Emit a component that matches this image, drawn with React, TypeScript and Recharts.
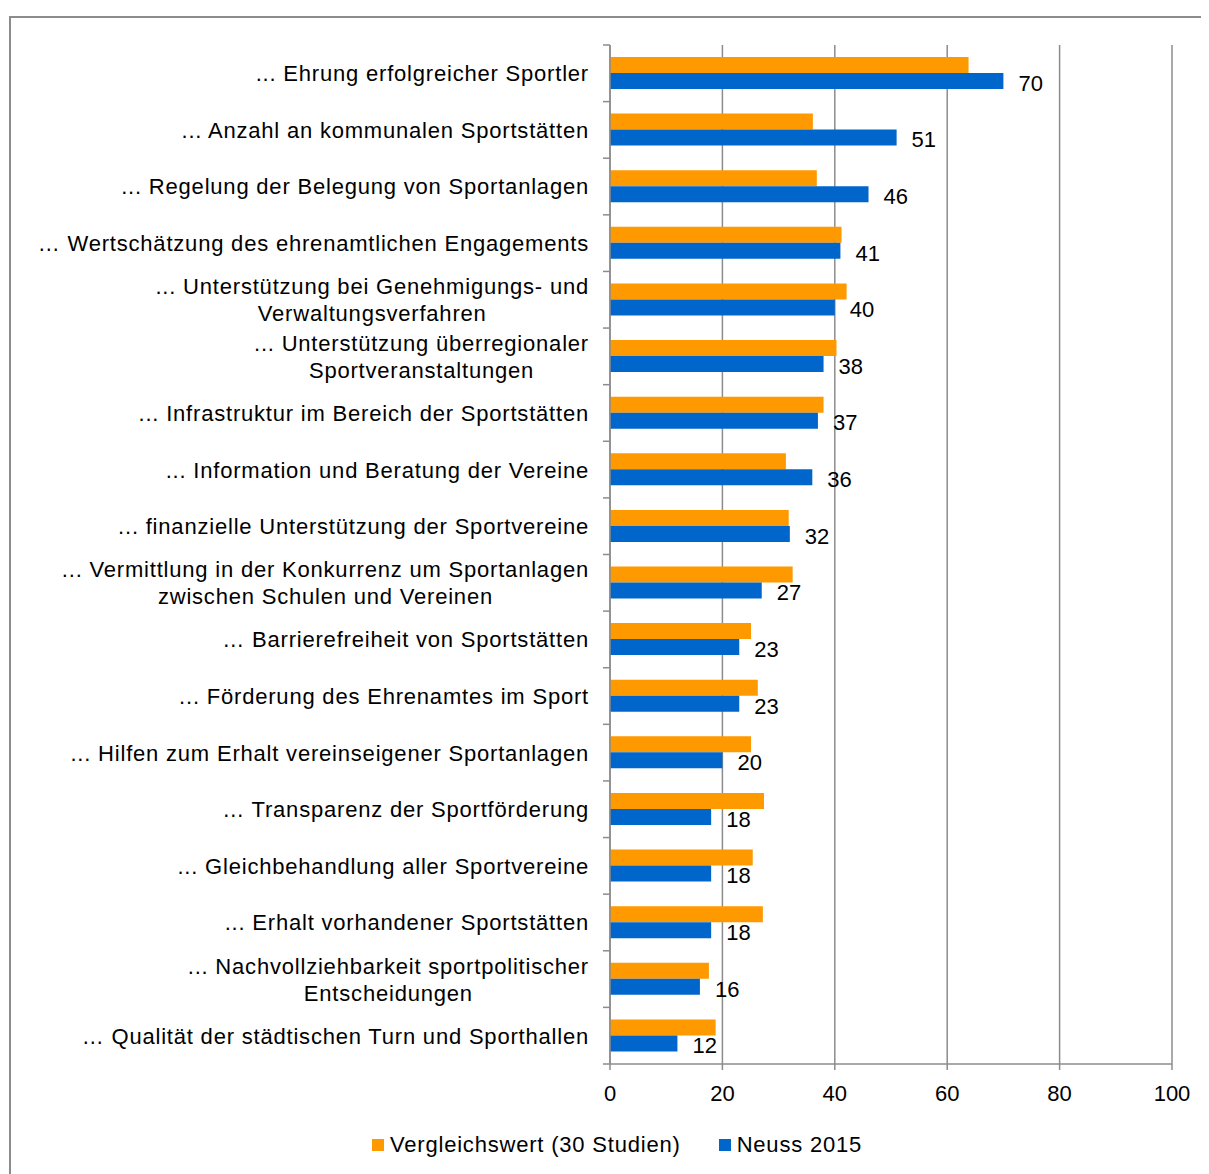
import {
  BarChart, Bar, XAxis, YAxis, CartesianGrid, Legend, LabelList
} from 'recharts'

const categories = [
  '... Ehrung erfolgreicher Sportler',
  '... Anzahl an kommunalen Sportstätten',
  '... Regelung der Belegung von Sportanlagen',
  '… Wertschätzung des ehrenamtlichen Engagements',
  '... Unterstützung bei Genehmigungs- und\nVerwaltungsverfahren',
  '... Unterstützung überregionaler\nSportveranstaltungen',
  '... Infrastruktur im Bereich der Sportstätten',
  '... Information und Beratung der Vereine',
  '... finanzielle Unterstützung der Sportvereine',
  '... Vermittlung in der Konkurrenz um Sportanlagen\nzwischen Schulen und Vereinen',
  '… Barrierefreiheit von Sportstätten',
  '... Förderung des Ehrenamtes im Sport',
  '... Hilfen zum Erhalt vereinseigener Sportanlagen',
  '… Transparenz der Sportförderung',
  '... Gleichbehandlung aller Sportvereine',
  '... Erhalt vorhandener Sportstätten',
  '... Nachvollziehbarkeit sportpolitischer\nEntscheidungen',
  '… Qualität der städtischen Turn und Sporthallen',
]

const vergleich = [63.8, 36.1, 36.8, 41.2, 42.1, 40.3, 38.0, 31.3, 31.8, 32.5, 25.1, 26.3, 25.1, 27.4, 25.4, 27.2, 17.6, 18.8]
const neuss = [70, 51, 46, 41, 40, 38, 37, 36, 32, 27, 23, 23, 20, 18, 18, 18, 16, 12]
const xTicks = [0, 20, 40, 60, 80, 100]

const seriesNames = { vergleich: 'Vergleichswert (30 Studien)', neuss: 'Neuss 2015' }

const FONT = '"Liberation Sans", Arial, sans-serif'
const FS = 22
const LS = 0.8
const GRAY = '#8c8c8c'
const PLOT_H = 1019

const data = categories.map((c, i) => ({ name: c, vergleich: vergleich[i], neuss: neuss[i] }))

let ctx: CanvasRenderingContext2D | null = null
function textWidth(s: string) {
  if (!ctx) {
    ctx = document.createElement('canvas').getContext('2d')
    if (ctx) ctx.font = `${FS}px "Liberation Sans"`
  }
  return (ctx ? ctx.measureText(s).width : s.length * 11) + s.length * LS
}

function CategoryTick(props: any) {
  const { x, y, payload, index } = props
  const lines: string[] = String(payload.value).split('\n')
  const half = PLOT_H / categories.length / 2
  const maxW = Math.max(...lines.map(textWidth))
  const cx = x - maxW / 2
  const lh = 27
  return (
    <g>
      <line x1={x + 14} x2={x + 21} y1={y - half} y2={y - half} stroke={GRAY} strokeWidth={1.5} />
      {index === categories.length - 1 && (
        <line x1={x + 14} x2={x + 21} y1={y + half} y2={y + half} stroke={GRAY} strokeWidth={1.5} />
      )}
      {lines.map((l, i) => (
        <text
          key={i}
          x={lines.length > 1 ? cx : x}
          y={y + (i - (lines.length - 1) / 2) * lh}
          dy="0.36em"
          textAnchor={lines.length > 1 ? 'middle' : 'end'}
          fontSize={FS}
          fontFamily={FONT}
          letterSpacing={LS}
          fill="#000"
        >
          {l}
        </text>
      ))}
    </g>
  )
}

function LegendContent() {
  const items = [
    { label: seriesNames.vergleich, color: '#ff9900' },
    { label: seriesNames.neuss, color: '#0066cc' },
  ]
  return (
    <div style={{ display: 'flex', alignItems: 'center', height: 30, paddingLeft: 361, fontFamily: FONT, fontSize: FS, letterSpacing: LS }}>
      {items.map((it, i) => (
        <div key={i} style={{ display: 'flex', alignItems: 'center', marginRight: 38 }}>
          <span style={{ width: 12, height: 12, background: it.color, display: 'inline-block', marginRight: 6 }} />
          <span>{it.label}</span>
        </div>
      ))}
    </div>
  )
}

export default function App() {
  return (
    <>
      <style>{'html,body{overflow:hidden}'}</style>
      <div style={{ marginLeft: 1, marginTop: 8, width: 1196, height: 1168, border: `2px solid ${GRAY}`, background: '#fff', fontFamily: FONT }}>
        <BarChart
          width={1196}
          height={1152}
          data={data}
          layout="vertical"
          margin={{ top: 27, right: 35, left: 0, bottom: 10 }}
          barSize={16}
          barGap={0}
        >
          <CartesianGrid horizontal={false} stroke={GRAY} strokeWidth={1.5} />
          <XAxis
            type="number"
            domain={[0, 100]}
            ticks={xTicks}
            height={66}
            tickSize={6}
            tickMargin={15}
            stroke={GRAY}
            strokeWidth={1.5}
            tick={{ fill: '#000', fontSize: FS, fontFamily: FONT }}
          />
          <YAxis
            type="category"
            dataKey="name"
            width={599}
            interval={0}
            tickSize={7}
            tickMargin={14}
            tickLine={false}
            stroke={GRAY}
            strokeWidth={1.5}
            tick={<CategoryTick />}
          />
          <Legend verticalAlign="bottom" content={<LegendContent />} />
          <Bar dataKey="vergleich" name={seriesNames.vergleich} fill="#ff9900" isAnimationActive={false} />
          <Bar dataKey="neuss" name={seriesNames.neuss} fill="#0066cc" isAnimationActive={false}>
            <LabelList dataKey="neuss" position="right" offset={15} fill="#000" fontSize={FS} fontFamily={FONT} dy={2} />
          </Bar>
        </BarChart>
      </div>
    </>
  )
}
